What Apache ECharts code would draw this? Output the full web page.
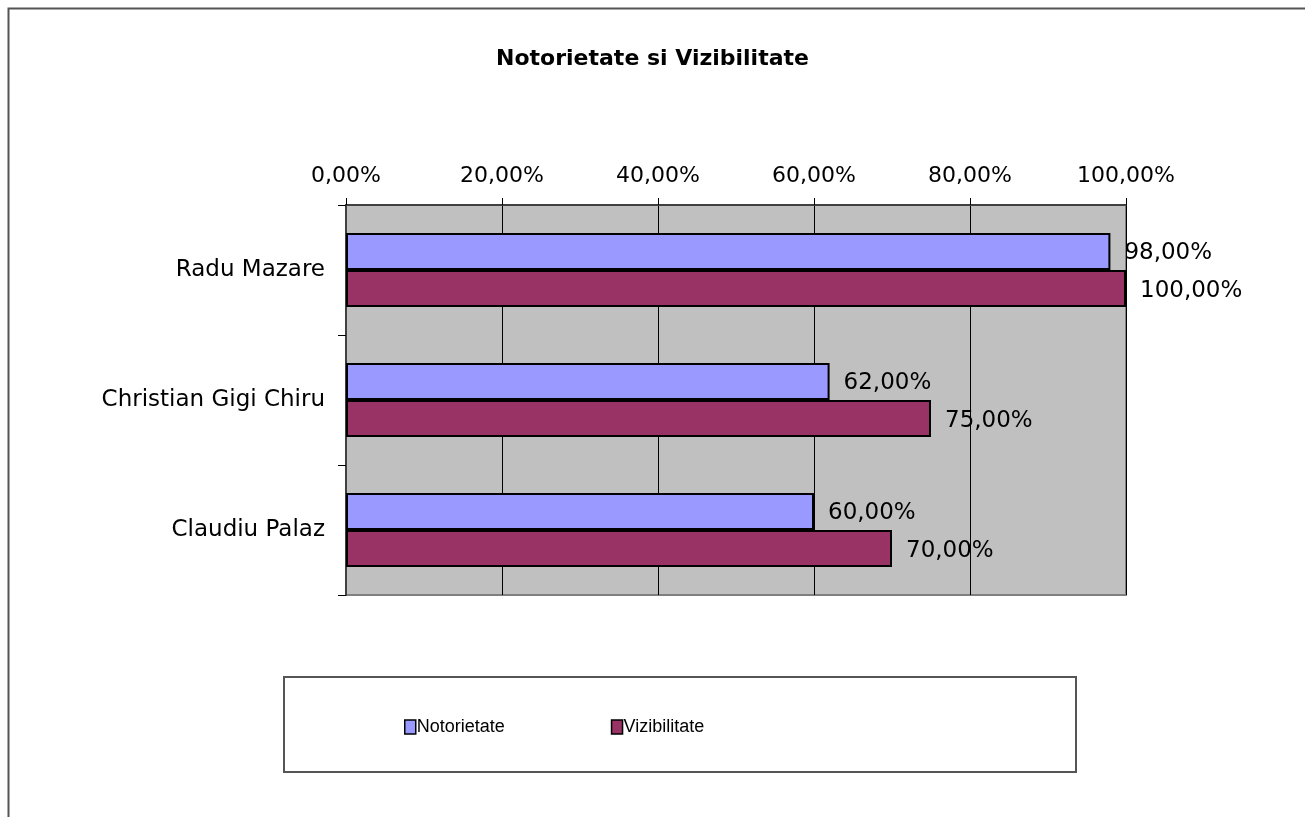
<!DOCTYPE html>
<html>
<head>
<meta charset="utf-8">
<script src="https://cdn.jsdelivr.net/npm/echarts@6/dist/echarts.min.js"></script>
<style>
  html, body { margin: 0; padding: 0; background: #fff; }
  #chart { width: 1305px; height: 817px; }
</style>
</head>
<body>
<div id="chart"></div>
<script>
// date
const categories = ['Radu Mazare', 'Christian Gigi Chiru', 'Claudiu Palaz']
const notorietate = [98, 62, 60]
const vizibilitate = [100, 75, 70]
const seriesNames = ['Notorietate', 'Vizibilitate']

const font = '"DejaVu Sans", Verdana, sans-serif'
const legendFont = '"Liberation Sans", Arial, sans-serif'
const pct = (v) => v.toFixed(2).replace('.', ',') + '%'

const chart = echarts.init(document.getElementById('chart'))

const barLabel = {
  show: true,
  position: 'right',
  distance: 14,
  fontFamily: font,
  fontSize: 23,
  color: '#000',
  formatter: (p) => pct(p.value)
}

chart.setOption({
  backgroundColor: '#fff',
  animation: false,
  title: {
    text: 'Notorietate si Vizibilitate',
    left: 'center',
    top: 43,
    textStyle: { fontFamily: font, fontSize: 22, fontWeight: 'bold', color: '#000' }
  },
  graphic: [
    {
      type: 'rect',
      shape: { x: 8.5, y: 8.5, width: 1400, height: 1000 },
      style: { fill: 'none', stroke: '#555', lineWidth: 2 },
      silent: true
    },
    {
      type: 'rect',
      shape: { x: 284, y: 677, width: 792, height: 95 },
      style: { fill: '#fff', stroke: '#555', lineWidth: 2 },
      silent: true,
      z: -1
    }
  ],
  legend: {
    data: seriesNames,
    left: 399,
    top: 713,
    icon: 'rect',
    itemWidth: 11,
    itemHeight: 14,
    itemGap: 106,
    textStyle: { fontFamily: legendFont, fontSize: 18, color: '#000', padding: [0, 0, 0, -4] },
    itemStyle: { borderColor: '#000', borderWidth: 1.5 }
  },
  grid: {
    left: 346,
    top: 205,
    width: 780,
    height: 390,
    show: true,
    backgroundColor: '#C0C0C0',
    borderColor: '#808080',
    borderWidth: 2
  },
  xAxis: {
    type: 'value',
    position: 'top',
    min: 0,
    max: 100,
    interval: 20,
    axisLine: { show: true, lineStyle: { color: '#404040', width: 2 } },
    axisTick: { show: true, inside: false, length: 7, lineStyle: { color: '#000' } },
    splitLine: { show: true, lineStyle: { color: '#000', width: 1 } },
    axisLabel: {
      margin: 18,
      fontFamily: font,
      fontSize: 22,
      color: '#000',
      formatter: pct
    }
  },
  yAxis: {
    type: 'category',
    inverse: true,
    data: categories,
    axisLine: { show: true, lineStyle: { color: '#404040', width: 2 } },
    axisTick: { show: true, length: 8, lineStyle: { color: '#000' } },
    axisLabel: { margin: 21, fontFamily: font, fontSize: 23, color: '#000', padding: [5, 0, 0, 0] }
  },
  series: [
    {
      name: seriesNames[0],
      type: 'bar',
      data: notorietate,
      barGap: 0,
      barCategoryGap: '43%',
      itemStyle: { color: '#9999FF', borderColor: '#000', borderWidth: 2 },
      label: Object.assign({}, barLabel, { offset: [0, 2] })
    },
    {
      name: seriesNames[1],
      type: 'bar',
      data: vizibilitate,
      barGap: 0,
      barCategoryGap: '43%',
      itemStyle: { color: '#993366', borderColor: '#000', borderWidth: 2 },
      label: Object.assign({}, barLabel, { offset: [0, 3] })
    }
  ]
})
</script>
</body>
</html>
